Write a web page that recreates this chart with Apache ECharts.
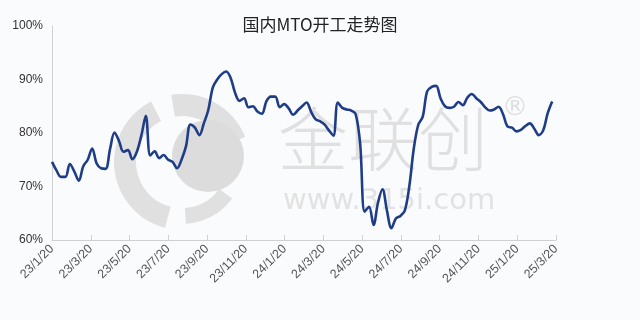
<!DOCTYPE html>
<html>
<head>
<meta charset="utf-8">
<script src="https://cdn.jsdelivr.net/npm/echarts@6/dist/echarts.min.js"></script>
<style>html,body{margin:0;padding:0;background:#fafbfd;}#c{width:640px;height:320px;}</style>
</head>
<body>
<div id="c"></div>
<script>
var title = '国内MTO开工走势图';
var tickLabels = ['23/1/20','23/3/20','23/5/20','23/7/20','23/9/20','23/11/20','24/1/20','24/3/20','24/5/20','24/7/20','24/9/20','24/11/20','25/1/20','25/3/20'];
var yTicks = [60, 70, 80, 90, 100];
// weekly MTO operating rate (%), starting 2023-01-20
var rates = [
74.6,73.0,71.8,71.8,74.2,72.8,71.1,73.8,75.0,77.1,
74.3,73.4,73.3,77.0,80.1,78.5,76.5,76.8,75.1,76.5,
79.5,83.2,75.8,76.6,75.3,75.9,75.0,74.6,73.4,75.0,
77.5,81.6,81.0,79.6,81.8,84.3,88.5,90.0,91.0,91.5,
90.3,87.5,86.0,86.5,84.8,85.0,84.0,83.6,85.9,86.8,
86.8,84.8,85.4,84.6,83.4,84.2,85.0,85.7,84.0,82.6,
82.2,81.6,80.5,79.5,85.7,84.7,84.4,84.2,83.5,78.0,
65.3,66.2,62.8,67.0,69.5,65.5,62.2,64.0,64.5,65.5,
70.0,77.0,81.5,83.0,87.8,88.6,88.8,86.5,85.0,84.7,
84.9,85.8,85.2,86.6,87.3,86.5,85.8,84.8,84.2,84.4,
84.9,83.5,81.2,81.0,80.3,80.6,81.3,81.8,80.8,79.6,
80.5,83.7,85.9
];
var spanDays = 790; // 2023-01-20 .. 2025-03-20
var step = spanDays / (tickLabels.length - 1);
var seriesData = rates.map(function (v, i) { return [i * 7, v]; });

var chart = echarts.init(document.getElementById('c'), null, {renderer: 'canvas'});
chart.setOption({
  backgroundColor: '#fafbfd',
  animation: false,
  title: {
    text: title, left: 'center', top: 11,
    textStyle: {fontFamily: 'Noto Sans CJK SC', fontSize: 17, fontWeight: 'normal', color: '#222'}
  },
  graphic: [
    {type: 'sector', silent: true, z: -1, shape: {cx: 182, cy: 162, r0: 46, r: 68, startAngle: Math.PI * 0.58, endAngle: Math.PI * 1.35}, style: {fill: '#e0e0e0'}},
    {type: 'sector', silent: true, z: -1, shape: {cx: 182, cy: 162, r0: 46, r: 68, startAngle: Math.PI * 1.45, endAngle: Math.PI * 1.88}, style: {fill: '#e0e0e0'}},
    {type: 'sector', silent: true, z: -1, shape: {cx: 182, cy: 162, r0: 46, r: 62, startAngle: Math.PI * 0.2, endAngle: Math.PI * 0.48}, style: {fill: '#e0e0e0'}},
    {type: 'circle', silent: true, z: -1, shape: {cx: 208, cy: 156, r: 36}, style: {fill: '#dcdcdc'}},
    {type: 'text', silent: true, z: -1, left: 278, top: 104, style: {text: '金联创', font: '300 70px "Noto Sans CJK SC"', fill: '#e0e0e0'}},
    {type: 'text', silent: true, z: -1, left: 283, top: 187, style: {text: 'www.315i.com', font: '29px "DejaVu Sans"', fill: '#e2e2e2'}},
    {type: 'text', silent: true, z: -1, left: 502, top: 95, style: {text: '®', font: '26px "DejaVu Sans"', fill: '#dedede'}}
  ],
  grid: {left: 52, right: 84, top: 26, bottom: 80},
  xAxis: {
    type: 'value', min: 0, max: spanDays, interval: step,
    axisLine: {lineStyle: {color: '#d0d0d0'}},
    axisTick: {show: true, inside: true, length: 5, lineStyle: {color: '#d0d0d0'}},
    splitLine: {show: false},
    axisLabel: {
      rotate: 45, color: '#555', fontSize: 12.5, fontFamily: 'Liberation Sans', margin: 7,
      formatter: function (v) { var k = Math.round(v / step); return tickLabels[k] || ''; }
    }
  },
  yAxis: {
    type: 'value', min: yTicks[0], max: yTicks[yTicks.length - 1], interval: 10,
    axisLine: {show: true, lineStyle: {color: '#d0d0d0'}},
    axisTick: {show: false},
    splitLine: {show: false},
    axisLabel: {color: '#333', fontSize: 12, fontFamily: 'Liberation Sans', margin: 9, formatter: '{value}%'}
  },
  series: [{
    type: 'line', data: seriesData, smooth: 0.35, symbol: 'none',
    lineStyle: {color: '#1f3d87', width: 2.6}
  }]
});
</script>
</body>
</html>
